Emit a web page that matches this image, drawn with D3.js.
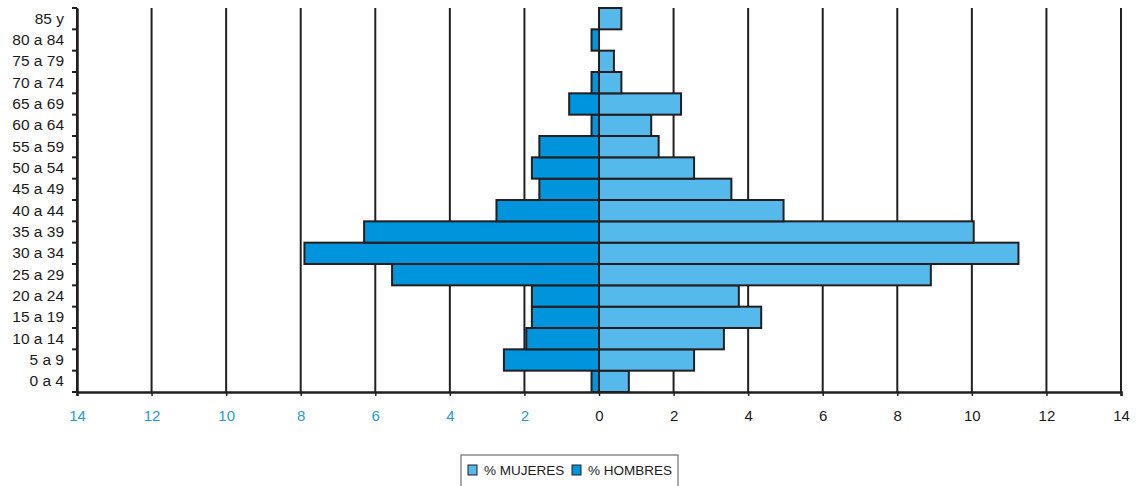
<!DOCTYPE html>
<html><head><meta charset="utf-8">
<script src="https://cdn.jsdelivr.net/npm/d3@7"></script>
<style>body{margin:0;background:#fff}svg{display:block}text{font-family:"Liberation Sans",Arial,sans-serif}</style>
</head><body><svg id="c" width="1137" height="486"></svg>
<script>
const categories = ["0 a 4","5 a 9","10 a 14","15 a 19","20 a 24","25 a 29","30 a 34","35 a 39","40 a 44","45 a 49","50 a 54","55 a 59","60 a 64","65 a 69","70 a 74","75 a 79","80 a 84","85 y"];
const mujeres = [0.8,2.55,3.35,4.35,3.75,8.9,11.25,10.05,4.95,3.55,2.55,1.6,1.4,2.2,0.6,0.4,0,0.6];
const hombres = [0.2,2.55,1.95,1.8,1.8,5.55,7.9,6.3,2.75,1.6,1.8,1.6,0.2,0.8,0.2,0,0.2,0];
const xTicks = [-14,-12,-10,-8,-6,-4,-2,0,2,4,6,8,10,12,14];
const legendLabels = ["% MUJERES","% HOMBRES"];

const colM = "#55B9EC", colH = "#0094DC", ink = "#231F20";
const svg = d3.select("#c");
const L = 77, R = 1121, T = 8, B = 392;
const x = d3.scaleLinear().domain([-14,14]).range([L,R]);
const y = d3.scaleBand().domain(categories.slice().reverse()).range([T,B]).padding(0);

// gridlines
svg.append("g").selectAll("line").data(xTicks).join("line")
  .attr("x1",d=>x(d)).attr("x2",d=>x(d)).attr("y1",T).attr("y2",B)
  .attr("stroke",ink).attr("stroke-width",2);

// bars
const bars = svg.append("g");
bars.selectAll("rect.m").data(categories.map((c,i)=>({c,v:mujeres[i]})).filter(d=>d.v>0)).join("rect")
  .attr("x",x(0)).attr("width",d=>x(d.v)-x(0)).attr("y",d=>y(d.c)).attr("height",y.bandwidth())
  .attr("fill",colM).attr("stroke",ink).attr("stroke-width",2);
bars.selectAll("rect.h").data(categories.map((c,i)=>({c,v:hombres[i]})).filter(d=>d.v>0)).join("rect")
  .attr("x",d=>x(-d.v)).attr("width",d=>x(0)-x(-d.v)).attr("y",d=>y(d.c)).attr("height",y.bandwidth())
  .attr("fill",colH).attr("stroke",ink).attr("stroke-width",2);

// x axis
const xa = svg.append("g").attr("transform",`translate(0,${B})`)
  .call(d3.axisBottom(x).tickValues(xTicks).tickSize(4).tickPadding(12).tickFormat(d=>Math.abs(d)));
xa.select(".domain").attr("stroke",ink).attr("stroke-width",2.5);
xa.selectAll(".tick line").attr("stroke",ink).attr("stroke-width",1.5);
xa.selectAll(".tick text").attr("font-size",15)
  .attr("y",29).attr("dy",null)
  .attr("fill",d=>d<0?"#1E9AD8":"#1a1a1a");

// y axis
const ya = svg.append("g").attr("transform",`translate(${L},0)`)
  .call(d3.axisLeft(y).tickSize(0).tickPadding(13));
ya.select(".domain").attr("stroke",ink).attr("stroke-width",2.5);
ya.selectAll(".tick text").attr("font-size",15.5).attr("fill","#1a1a1a");
// band boundary ticks
const bounds = categories.map(c=>y(c)).concat([B]);
svg.append("g").selectAll("line").data(bounds).join("line")
  .attr("x1",L-5).attr("x2",L).attr("y1",d=>d).attr("y2",d=>d)
  .attr("stroke",ink).attr("stroke-width",2);

// legend
const lg = svg.append("g");
lg.append("rect").attr("x",461).attr("y",455).attr("width",217).attr("height",40)
  .attr("fill","#fff").attr("stroke","#555").attr("stroke-width",1);
const items = [{t:legendLabels[0],c:colM,x:468},{t:legendLabels[1],c:colH,x:572}];
items.forEach(it=>{
  lg.append("rect").attr("x",it.x).attr("y",465).attr("width",9).attr("height",10)
    .attr("fill",it.c).attr("stroke",ink).attr("stroke-width",1);
  lg.append("text").attr("x",it.x+16).attr("y",475).attr("font-size",13.5).attr("fill","#1a1a1a").text(it.t);
});
</script></body></html>
